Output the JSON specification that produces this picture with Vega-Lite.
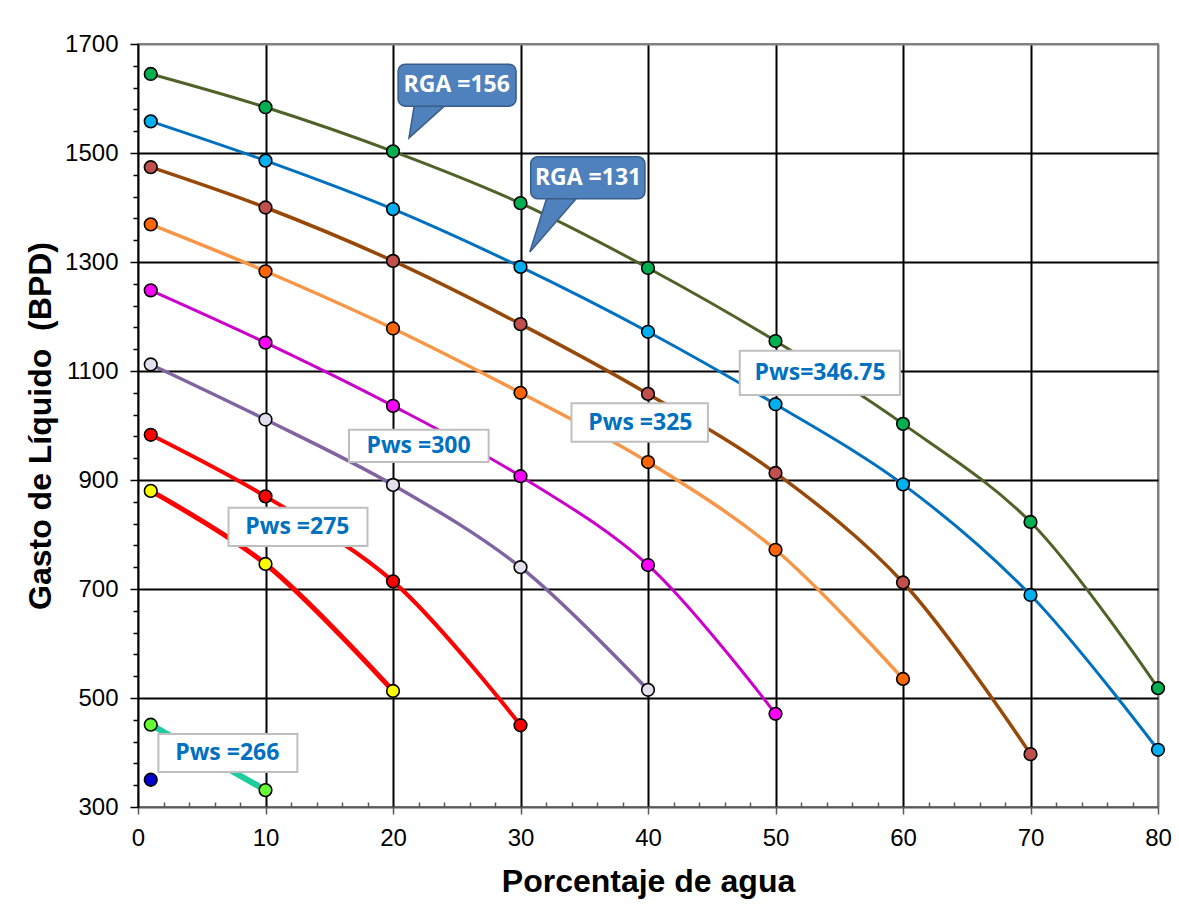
{
  "$schema": "https://vega.github.io/schema/vega-lite/v6.json",
  "width": 1020,
  "height": 763,
  "autosize": "none",
  "padding": {"left": 138, "top": 44, "right": 21, "bottom": 109},
  "background": "#ffffff",
  "config": {
    "font": "Liberation Sans",
    "view": {"stroke": "#808080", "strokeWidth": 2}
  },
  "datasets": {
    "curves": [
      {"series": "s1", "agua": 1, "gasto": 1645}, {"series": "s1", "agua": 10, "gasto": 1584}, {"series": "s1", "agua": 20, "gasto": 1503}, {"series": "s1", "agua": 30, "gasto": 1408}, {"series": "s1", "agua": 40, "gasto": 1289}, {"series": "s1", "agua": 50, "gasto": 1155}, {"series": "s1", "agua": 60, "gasto": 1003}, {"series": "s1", "agua": 70, "gasto": 823}, {"series": "s1", "agua": 80, "gasto": 518},
      {"series": "s2", "agua": 1, "gasto": 1558}, {"series": "s2", "agua": 10, "gasto": 1486}, {"series": "s2", "agua": 20, "gasto": 1397}, {"series": "s2", "agua": 30, "gasto": 1291}, {"series": "s2", "agua": 40, "gasto": 1172}, {"series": "s2", "agua": 50, "gasto": 1039}, {"series": "s2", "agua": 60, "gasto": 892}, {"series": "s2", "agua": 70, "gasto": 689}, {"series": "s2", "agua": 80, "gasto": 405},
      {"series": "s3", "agua": 1, "gasto": 1474}, {"series": "s3", "agua": 10, "gasto": 1400}, {"series": "s3", "agua": 20, "gasto": 1302}, {"series": "s3", "agua": 30, "gasto": 1186}, {"series": "s3", "agua": 40, "gasto": 1058}, {"series": "s3", "agua": 50, "gasto": 913}, {"series": "s3", "agua": 60, "gasto": 712}, {"series": "s3", "agua": 70, "gasto": 397},
      {"series": "s4", "agua": 1, "gasto": 1369}, {"series": "s4", "agua": 10, "gasto": 1283}, {"series": "s4", "agua": 20, "gasto": 1178}, {"series": "s4", "agua": 30, "gasto": 1060}, {"series": "s4", "agua": 40, "gasto": 933}, {"series": "s4", "agua": 50, "gasto": 772}, {"series": "s4", "agua": 60, "gasto": 535},
      {"series": "s5", "agua": 1, "gasto": 1248}, {"series": "s5", "agua": 10, "gasto": 1152}, {"series": "s5", "agua": 20, "gasto": 1036}, {"series": "s5", "agua": 30, "gasto": 907}, {"series": "s5", "agua": 40, "gasto": 744}, {"series": "s5", "agua": 50, "gasto": 471},
      {"series": "s6", "agua": 1, "gasto": 1112}, {"series": "s6", "agua": 10, "gasto": 1011}, {"series": "s6", "agua": 20, "gasto": 891}, {"series": "s6", "agua": 30, "gasto": 740}, {"series": "s6", "agua": 40, "gasto": 515},
      {"series": "s7", "agua": 1, "gasto": 983}, {"series": "s7", "agua": 10, "gasto": 870}, {"series": "s7", "agua": 20, "gasto": 714}, {"series": "s7", "agua": 30, "gasto": 450},
      {"series": "s8", "agua": 1, "gasto": 880}, {"series": "s8", "agua": 10, "gasto": 746}, {"series": "s8", "agua": 20, "gasto": 513},
      {"series": "s9", "agua": 1, "gasto": 451}, {"series": "s9", "agua": 10, "gasto": 331},
      {"series": "s10", "agua": 1, "gasto": 350}
    ],
    "labels": [
      {"kind": "RGA", "text": "RGA =156", "x1": 20.4, "x2": 29.65, "y1": 1663, "y2": 1586, "xc": 25.0, "yc": 1624},
      {"kind": "RGA", "text": "RGA =131", "x1": 30.8, "x2": 39.76, "y1": 1493, "y2": 1416, "xc": 35.3, "yc": 1454},
      {"kind": "Pws", "text": "Pws=346.75", "x1": 47.2, "x2": 59.76, "y1": 1137, "y2": 1056, "xc": 53.5, "yc": 1096},
      {"kind": "Pws", "text": "Pws =325", "x1": 34.0, "x2": 44.7, "y1": 1041, "y2": 970, "xc": 39.4, "yc": 1005},
      {"kind": "Pws", "text": "Pws =300", "x1": 16.55, "x2": 27.5, "y1": 992, "y2": 933, "xc": 22.0, "yc": 962},
      {"kind": "Pws", "text": "Pws =275", "x1": 7.1, "x2": 18.0, "y1": 849, "y2": 779, "xc": 12.5, "yc": 814},
      {"kind": "Pws", "text": "Pws =266", "x1": 1.6, "x2": 12.5, "y1": 434, "y2": 364, "xc": 7.0, "yc": 399}
    ],
    "tails": [
      {"text": "RGA =156", "xt": 22.9, "yt": 1557},
      {"text": "RGA =131", "xt": 32.3, "yt": 1366}
    ]
  },
  "encoding": {
    "x": {
      "type": "quantitative",
      "scale": {"domain": [0, 80], "nice": false, "zero": false},
      "axis": {
        "values": [0,2,4,6,8,10,12,14,16,18,20,22,24,26,28,30,32,34,36,38,40,42,44,46,48,50,52,54,56,58,60,62,64,66,68,70,72,74,76,78,80],
        "format": "d",
        "title": "Porcentaje de agua",
        "titleFontSize": 32, "titleFontWeight": "bold", "titleColor": "#000000", "titlePadding": 16,
        "labelFontSize": 24, "labelColor": "#000000", "labelPadding": 12,
        "labelExpr": "datum.value % 10 == 0 ? datum.label : ''",
        "labelOverlap": false, "labelFlush": false,
        "grid": true,
        "gridColor": {"condition": {"test": "datum.value == 80", "value": "#808080"}, "value": "#000000"},
        "gridOpacity": {"condition": {"test": "datum.value % 10 == 0 && datum.value > 0", "value": 1}, "value": 0},
        "gridWidth": 2,
        "tickSize": {"condition": {"test": "datum.value % 10 == 0", "value": 7}, "value": -5},
        "tickColor": "#595959", "tickWidth": 1.5,
        "domainColor": "#595959", "domainWidth": 2
      }
    },
    "y": {
      "type": "quantitative",
      "scale": {"domain": [300, 1700], "nice": false, "zero": false},
      "axis": {
        "values": [300,340,380,420,460,500,540,580,620,660,700,740,780,820,860,900,940,980,1020,1060,1100,1140,1180,1220,1260,1300,1340,1380,1420,1460,1500,1540,1580,1620,1660,1700],
        "format": "d",
        "title": "Gasto de Líquido \u00a0(BPD)",
        "titleFontSize": 32, "titleFontWeight": "bold", "titleColor": "#000000", "titlePadding": 7,
        "labelFontSize": 24, "labelColor": "#000000", "labelPadding": 12,
        "labelExpr": "(datum.value - 300) % 200 == 0 ? datum.label : ''",
        "labelOverlap": false, "labelFlush": false,
        "grid": true,
        "gridColor": {"condition": {"test": "datum.value == 1700", "value": "#808080"}, "value": "#000000"},
        "gridOpacity": {"condition": {"test": "(datum.value - 300) % 200 == 0 && datum.value > 300", "value": 1}, "value": 0},
        "gridWidth": 2,
        "tickSize": {"condition": {"test": "(datum.value - 300) % 200 == 0", "value": 8}, "value": 5},
        "tickColor": "#000000", "tickWidth": 1.5,
        "domainColor": "#000000", "domainWidth": 2
      }
    }
  },
  "layer": [
    {
      "data": {"name": "curves"},
      "mark": {"type": "line", "interpolate": "catmull-rom"},
      "encoding": {
        "x": {"field": "agua", "type": "quantitative"},
        "y": {"field": "gasto", "type": "quantitative"},
        "detail": {"field": "series"},
        "stroke": {"field": "series", "type": "nominal", "legend": null,
          "scale": {"domain": ["s1","s2","s3","s4","s5","s6","s7","s8","s9","s10"],
                    "range": ["#4F6228","#0070C0","#984807","#F79646","#CC00CC","#8064A2","#FF0000","#FF0000","#1FCC9F","#0000CC"]}},
        "strokeWidth": {"field": "series", "type": "ordinal", "legend": null,
          "scale": {"type": "ordinal", "domain": ["s1","s2","s3","s4","s5","s6","s7","s8","s9","s10"],
                    "range": [3,3,3.5,3.5,3,3.5,4,5,6,1]}}
      }
    },
    {
      "data": {"name": "curves"},
      "mark": {"type": "point", "filled": true, "stroke": "#000000", "strokeWidth": 1.6, "size": 160, "opacity": 1},
      "encoding": {
        "x": {"field": "agua", "type": "quantitative"},
        "y": {"field": "gasto", "type": "quantitative"},
        "fill": {"field": "series", "type": "nominal", "legend": null,
          "scale": {"domain": ["s1","s2","s3","s4","s5","s6","s7","s8","s9","s10"],
                    "range": ["#00B050","#00B0F0","#C0504D","#FF6600","#FF00FF","#E4DFEC","#FF0000","#FFFF00","#66FF33","#0000CC"]}}
      }
    },
    {
      "data": {"name": "tails"},
      "mark": {"type": "point", "filled": true, "fill": "#4F81BD", "stroke": "#385D8A", "strokeWidth": 1.5, "size": 3600, "opacity": 1},
      "encoding": {
        "x": {"field": "xt", "type": "quantitative"},
        "y": {"field": "yt", "type": "quantitative"},
        "shape": {"field": "text", "type": "nominal", "legend": null,
          "scale": {"domain": ["RGA =156", "RGA =131"],
                    "range": ["M -0.5 -0.7 L 0.67 -0.7 L -0.7 0.533 Z", "M -0.067 -1.05 L 1 -1.05 L -0.667 0.867 Z"]}}
      }
    },
    {
      "data": {"name": "labels"},
      "transform": [{"filter": "datum.kind == 'RGA'"}],
      "mark": {"type": "rect", "fill": "#4F81BD", "stroke": "#385D8A", "strokeWidth": 1.5, "cornerRadius": 7},
      "encoding": {
        "x": {"field": "x1", "type": "quantitative"},
        "x2": {"field": "x2"},
        "y": {"field": "y1", "type": "quantitative"},
        "y2": {"field": "y2"}
      }
    },
    {
      "data": {"name": "labels"},
      "transform": [{"filter": "datum.kind == 'Pws'"}],
      "mark": {"type": "rect", "fill": "#FFFFFF", "stroke": "#BFBFBF", "strokeWidth": 2},
      "encoding": {
        "x": {"field": "x1", "type": "quantitative"},
        "x2": {"field": "x2"},
        "y": {"field": "y1", "type": "quantitative"},
        "y2": {"field": "y2"}
      }
    },
    {
      "data": {"name": "labels"},
      "mark": {"type": "text", "font": "Open Sans", "fontWeight": "bold", "fontSize": 23, "align": "center", "baseline": "middle"},
      "encoding": {
        "x": {"field": "xc", "type": "quantitative"},
        "y": {"field": "yc", "type": "quantitative"},
        "text": {"field": "text"},
        "color": {"field": "kind", "type": "nominal", "legend": null,
          "scale": {"domain": ["RGA", "Pws"], "range": ["#FFFFFF", "#0070C0"]}}
      }
    }
  ]
}
